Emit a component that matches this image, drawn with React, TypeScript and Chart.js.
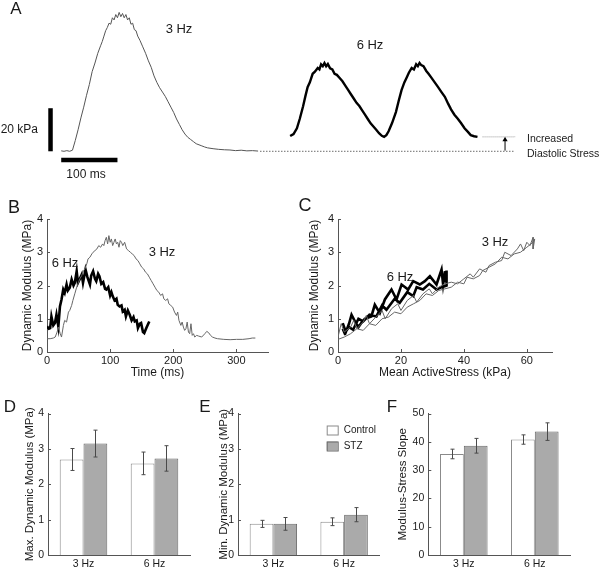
import React, { useEffect, useRef } from "react";
import { Chart, registerables } from "chart.js";
Chart.register(...registerables);

const FONT = '"Liberation Sans", Arial, Helvetica, sans-serif';
const AXIS = "#555555";
const TXT = "#1a1a1a";

type Pt = [number, number];

// ---------- Panel A: stress traces (time ms, stress kPa) ----------
const A_TRACE_3HZ: Pt[] = [
  [0, 0.2], [5, 0], [10, 0.3], [15, 0], [20, 0.5], [25, 5], [30, 10], [35, 15.5], [40, 20.5],
  [45, 26], [50, 31], [55, 37], [60, 41], [65, 45.5], [70, 49], [73, 51], [76, 53.5], [79, 56],
  [82, 57.5], [85, 59.5], [88, 59], [91, 62], [94, 61], [97, 63.5], [100, 62], [103, 64.5],
  [106, 62.5], [109, 64], [112, 62], [115, 63.5], [118, 61], [121, 62], [124, 59], [127, 59.5],
  [130, 56.5], [133, 56], [136, 53.5], [140, 51.5], [145, 48.5], [150, 45.5], [155, 42], [160, 39],
  [165, 35], [170, 32], [175, 29.5], [180, 27.5], [185, 25.5], [190, 23], [195, 20.5], [200, 18],
  [205, 15], [210, 12.5], [215, 10], [220, 8], [225, 6.5], [230, 5.5], [235, 4.5], [240, 3.5],
  [245, 3], [250, 2.5], [255, 2], [260, 1.6], [270, 1.2], [280, 0.9], [290, 0.7], [300, 0.6],
  [310, 0.3], [320, 0.5], [330, 0.2], [340, 0.3], [350, 0.1],
];
const A_TRACE_6HZ: Pt[] = [
  [407, 7.1], [413, 8], [419, 10.7], [424, 15], [430, 20.9], [434, 25.5], [438, 29.8], [442, 32],
  [447, 36], [451, 37], [456, 38.7], [459, 38], [462, 40.4], [465, 39.5], [468, 41], [471, 39.5],
  [474, 40.5], [478, 38.5], [482, 38], [486, 36], [490, 35.5], [495, 34], [500, 32.5], [505, 30.5],
  [510, 28.5], [515, 26.5], [520, 24.5], [525, 22.5], [530, 21], [535, 19], [540, 17], [545, 15],
  [550, 13], [555, 11.5], [560, 10], [565, 8.4], [570, 7.2], [574, 6.7], [578, 7.5], [582, 9.3],
  [588, 13], [595, 18.2], [600, 23.5], [605, 28.4], [610, 32], [614, 34.2], [618, 36.5], [623, 38.7],
  [627, 38], [631, 40.4], [634, 39.5], [637, 41], [640, 40], [644, 39.5], [649, 37.3], [653, 36],
  [658, 34.2], [664, 32], [670, 29.8], [676, 27.5], [682, 25.3], [688, 22], [693, 19.5], [699, 17],
  [705, 15.1], [711, 13], [717, 10.7], [723, 9], [728, 7.5], [734, 7], [740, 6.7],
];
const A_BASELINE: Pt[] = [[354, 0], [807, 0]];
const A_DIASTOLIC: Pt[] = [[749, 6.7], [807, 6.7]];
const A_ARROW: Pt[] = [[789, 0.3], [789, 5.4]];
const A_BAR_STRESS: Pt[] = [[-19, 0], [-19, 20]]; // 20 kPa scale bar
const A_BAR_TIME: Pt[] = [[0, -4], [100, -4]]; // 100 ms scale bar

// ---------- Panel B: dynamic modulus vs time (ms, MPa) ----------
const B_3HZ: Pt[] = [
  [0, 0.4], [5, 0.4], [10, 0.42], [13, 0.45], [16, 0.6], [18, 0.75], [21, 0.55], [23, 0.45],
  [26, 0.8], [28, 0.95], [31, 0.9], [34, 1.2], [36, 1.25], [39, 1.4], [41, 1.55], [44, 1.75],
  [47, 1.95], [50, 2.1], [52, 2.2], [55, 2.3], [58, 2.45], [60, 2.5], [63, 2.65], [65, 2.8],
  [68, 2.85], [71, 2.95], [73, 3.0], [76, 3.05], [79, 3.1], [82, 3.2], [85, 3.15], [88, 3.25],
  [90, 3.2], [92, 3.35], [94, 3.45], [96, 3.25], [98, 3.5], [100, 3.3], [102, 3.4], [104, 3.2],
  [106, 3.3], [108, 3.4], [110, 3.25], [112, 3.3], [114, 3.15], [116, 3.35], [118, 3.3], [120, 3.2],
  [123, 3.3], [126, 3.1], [129, 3.05], [132, 3.0], [135, 2.95], [138, 2.9], [141, 2.8], [144, 2.75],
  [147, 2.65], [150, 2.55], [153, 2.5], [156, 2.4], [159, 2.35], [162, 2.25], [165, 2.15], [168, 2.05],
  [171, 1.95], [174, 1.85], [177, 1.8], [180, 1.7], [183, 1.75], [185, 1.6], [188, 1.55], [191, 1.6],
  [193, 1.45], [196, 1.4], [199, 1.35], [202, 1.2], [205, 1.1], [207, 1.2], [209, 0.95], [212, 0.8],
  [214, 0.9], [216, 0.75], [218, 0.65], [220, 0.7], [222, 0.9], [224, 0.6], [226, 0.55], [228, 0.85],
  [230, 0.5], [232, 0.55], [234, 0.45], [237, 0.5], [240, 0.48], [245, 0.45], [250, 0.55], [253, 0.62],
  [256, 0.58], [259, 0.5], [262, 0.45], [266, 0.42], [270, 0.4], [280, 0.38], [290, 0.37], [300, 0.38],
  [310, 0.38], [320, 0.4], [325, 0.42], [330, 0.42],
];
const B_6HZ: Pt[] = [
  [0, 0.77], [3, 0.7], [5, 0.72], [7, 1.07], [10, 0.8], [12.6, 0.87], [15, 1.12], [18, 0.77],
  [20.5, 1.37], [23, 1.58], [25.7, 1.88], [28, 1.78], [31, 2.03], [33, 1.85], [36, 1.93], [39, 2.18],
  [42, 2.0], [44, 2.08], [47, 2.43], [49, 2.08], [52, 2.2], [55, 2.33], [57, 2.08], [61, 2.48],
  [64, 2.25], [68, 2.03], [70, 2.3], [73, 2.43], [76, 2.2], [78, 2.13], [81, 2.35], [83, 2.28],
  [86, 2.05], [89, 2.1], [92, 1.9], [94, 1.88], [97, 1.95], [100, 1.7], [102, 1.8], [104, 1.68],
  [107, 1.55], [110, 1.6], [112, 1.42], [115, 1.37], [118, 1.4], [120, 1.22], [123, 1.27], [125, 1.07],
  [128, 1.25], [131, 1.12], [134, 0.95], [137, 1.05], [139, 0.92], [142, 0.95], [144, 0.72], [147, 0.85],
  [149, 0.87], [152, 0.6], [154, 0.57], [158, 0.75], [162, 0.92],
];

// ---------- Panel C: dynamic modulus vs mean active stress (kPa, MPa) ----------
const C_3HZ: Pt[] = [
  [0, 0.45], [1, 0.85], [2, 0.6], [4, 0.75], [5, 0.95], [6, 0.7], [8, 0.9], [9, 1.1], [10, 0.85],
  [12, 1.05], [14, 1.25], [15, 1.0], [17, 1.3], [19, 1.45], [20, 1.25], [22, 1.55], [24, 1.7],
  [25, 1.5], [27, 1.75], [29, 1.9], [30, 1.75], [32, 1.95], [34, 2.05], [36, 2.1], [38, 2.05],
  [40, 2.2], [42, 2.35], [43, 2.25], [45, 2.5], [47, 2.4], [48, 2.6], [50, 2.7], [52, 2.75],
  [53, 3.0], [55, 2.9], [57, 3.1], [58, 3.25], [59, 3.05], [60, 3.3], [61, 3.2], [62, 3.45],
  [62, 3.1], [62.5, 3.4], [62, 3.3], [60, 3.15], [58, 3.0], [56, 2.95], [54, 2.8], [52, 2.85],
  [50, 2.65], [48, 2.55], [46, 2.45], [45, 2.3], [43, 2.2], [41, 2.25], [40, 2.05], [38, 2.1],
  [36, 1.95], [34, 1.9], [32, 1.85], [30, 1.7], [28, 1.75], [26, 1.55], [24, 1.45], [22, 1.35],
  [20, 1.15], [18, 1.2], [16, 1.05], [14, 1.0], [12, 0.8], [10, 0.85], [8, 0.65], [6, 0.7],
  [4, 0.55], [2, 0.45], [0, 0.38],
];
const C_6HZ: Pt[] = [
  [1.5, 0.87], [2.5, 0.6], [3.5, 0.85], [4.3, 1.12], [5.5, 0.9], [6.5, 0.75], [7.4, 0.87], [8.5, 1.0],
  [10.6, 1.07], [11.7, 1.42], [13.3, 1.17], [14.9, 1.58], [17, 1.88], [18.6, 1.58], [20.2, 2.03],
  [22.3, 1.88], [23.9, 2.13], [26, 2.03], [27.6, 2.13], [29.2, 2.28], [31.3, 2.03], [32.9, 2.48],
  [33.4, 2.03], [34, 2.43], [34.2, 2.1], [34.5, 2.45], [34.5, 2.0], [33, 1.95], [31.3, 1.88],
  [29, 2.05], [27, 1.88], [25, 1.95], [23.9, 1.68], [22, 1.8], [19.6, 1.48], [18, 1.6], [15.4, 1.27],
  [14, 1.4], [12.2, 1.07], [10, 1.12], [8, 0.92], [6.5, 1.0], [4.8, 0.67], [3.5, 0.75], [2.1, 0.57],
  [1.5, 0.7],
];

// ---------- Panels D, E, F: group means ----------
const GROUPS = ["3 Hz", "6 Hz"];
const MAX_CONTROL = [2.7, 2.59];
const MAX_CONTROL_ERR = [0.31, 0.32];
const MAX_STZ = [3.15, 2.73];
const MAX_STZ_ERR = [0.38, 0.36];
const MIN_CONTROL = [0.88, 0.94];
const MIN_CONTROL_ERR = [0.1, 0.11];
const MIN_STZ = [0.88, 1.14];
const MIN_STZ_ERR = [0.18, 0.2];
const SLOPE_CONTROL = [35.7, 40.8];
const SLOPE_CONTROL_ERR = [1.7, 1.65];
const SLOPE_STZ = [38.6, 43.6];
const SLOPE_STZ_ERR = [2.6, 3.1];

const toXY = (a: Pt[]) => a.map(([x, y]) => ({ x, y }));

type Label = { text: string; x: number; y: number; size: number; align?: CanvasTextAlign };
const labelsPlugin = (items: Label[]) => ({
  id: "labels",
  afterDraw(chart: any) {
    const ctx = chart.ctx;
    ctx.save();
    for (const it of items) {
      ctx.font = `${it.size}px ${FONT}`;
      ctx.fillStyle = TXT;
      ctx.textAlign = it.align ?? "center";
      ctx.textBaseline = "middle";
      ctx.fillText(it.text, it.x, it.y);
    }
    ctx.restore();
  },
});

const inwardTicks = {
  id: "inwardTicks",
  afterDraw(chart: any) {
    const { ctx, chartArea: a, scales } = chart;
    ctx.save();
    ctx.strokeStyle = AXIS;
    ctx.lineWidth = 1;
    ctx.beginPath();
    const xs = scales.x, ys = scales.y;
    if (xs && xs.type === "linear")
      for (const t of xs.ticks) {
        const p = Math.round(xs.getPixelForValue(t.value)) + 0.5;
        ctx.moveTo(p, a.bottom);
        ctx.lineTo(p, a.bottom - 3);
      }
    if (ys)
      for (const t of ys.ticks) {
        const p = Math.round(ys.getPixelForValue(t.value)) + 0.5;
        ctx.moveTo(a.left, p);
        ctx.lineTo(a.left + 3, p);
      }
    ctx.stroke();
    ctx.restore();
  },
};

const errorBars = {
  id: "errorBars",
  afterDatasetsDraw(chart: any) {
    const { ctx } = chart;
    const ys = chart.scales.y;
    ctx.save();
    ctx.strokeStyle = "#4a4a4a";
    ctx.lineWidth = 1;
    chart.data.datasets.forEach((ds: any, i: number) => {
      const meta = chart.getDatasetMeta(i);
      meta.data.forEach((el: any, j: number) => {
        const v = ds.data[j], e = ds.errors[j];
        const x = Math.round(el.x) + 0.5;
        const y1 = ys.getPixelForValue(v + e), y2 = ys.getPixelForValue(v - e);
        ctx.beginPath();
        ctx.moveTo(x, y1); ctx.lineTo(x, y2);
        ctx.moveTo(x - 2, y1); ctx.lineTo(x + 2, y1);
        ctx.moveTo(x - 2, y2); ctx.lineTo(x + 2, y2);
        ctx.stroke();
      });
    });
    ctx.restore();
  },
};

const legendBoxes = (x: number, y0: number, dy: number) => ({
  id: "legendBoxes",
  afterDraw(chart: any) {
    const { ctx } = chart;
    ctx.save();
    chart.data.datasets.forEach((ds: any, i: number) => {
      const y = y0 + i * dy;
      ctx.fillStyle = ds.backgroundColor;
      ctx.fillRect(x, y, 11, 9);
      ctx.strokeStyle = ds.borderColor;
      ctx.lineWidth = 1;
      ctx.strokeRect(x + 0.5, y + 0.5, 11, 9);
      ctx.fillStyle = TXT;
      ctx.font = `10px ${FONT}`;
      ctx.textAlign = "left";
      ctx.textBaseline = "middle";
      ctx.fillText(ds.label, x + 17, y + 5);
    });
    ctx.restore();
  },
});

const keepMultiples = (step: number) => (s: any) => {
  s.ticks = s.ticks.filter((t: any) => Math.abs(t.value / step - Math.round(t.value / step)) < 1e-6);
};

const base = {
  animation: false,
  responsive: false,
  devicePixelRatio: 1,
  events: [],
  plugins: { legend: { display: false }, tooltip: { enabled: false } },
};

function lineAxes(o: {
  xMax: number; xStep: number; xTitle: string; yTitle: string;
  yWidth: number; xHeight: number; yTitlePad: number; xTitlePad: number;
}) {
  return {
    x: {
      type: "linear", min: 0, max: o.xMax,
      grid: { display: false, drawTicks: false },
      border: { display: true, color: AXIS },
      ticks: { stepSize: o.xStep, padding: 2, color: TXT, font: { family: FONT, size: 11 }, maxRotation: 0, autoSkip: false },
      afterBuildTicks: keepMultiples(o.xStep),
      afterFit: (s: any) => { s.height = o.xHeight; },
      title: { display: true, text: o.xTitle, color: TXT, font: { family: FONT, size: 12 }, padding: { top: 0, bottom: o.xTitlePad } },
    },
    y: {
      type: "linear", min: 0, max: 4,
      grid: { display: false, drawTicks: false },
      border: { display: true, color: AXIS },
      ticks: { stepSize: 1, padding: 4, color: TXT, font: { family: FONT, size: 11 } },
      afterFit: (s: any) => { s.width = o.yWidth; },
      title: { display: true, text: o.yTitle, color: TXT, font: { family: FONT, size: 12 }, padding: { top: o.yTitlePad, bottom: 0 } },
    },
  };
}

const configA = () => ({
  type: "scatter",
  data: {
    datasets: [
      { data: toXY(A_TRACE_3HZ), showLine: true, borderColor: "#555", borderWidth: 1, pointRadius: 0 },
      { data: toXY(A_TRACE_6HZ), showLine: true, borderColor: "#000", borderWidth: 2.4, pointRadius: 0 },
      { data: toXY(A_BASELINE), showLine: true, borderColor: "#222", borderWidth: 1, borderDash: [1, 2], pointRadius: 0 },
      { data: toXY(A_DIASTOLIC), showLine: true, borderColor: "#999", borderWidth: 1, borderDash: [1, 1], pointRadius: 0 },
      {
        data: toXY(A_ARROW), showLine: true, borderColor: "#000", borderWidth: 1,
        pointRadius: [0, 3], pointStyle: "triangle", pointBackgroundColor: "#000", pointBorderColor: "#000", pointBorderWidth: 0,
      },
      { data: toXY(A_BAR_STRESS), showLine: true, borderColor: "#000", borderWidth: 4.5, borderCapStyle: "butt", pointRadius: 0 },
      { data: toXY(A_BAR_TIME), showLine: true, borderColor: "#000", borderWidth: 4.5, borderCapStyle: "butt", pointRadius: 0 },
    ],
  },
  options: {
    ...base,
    layout: { padding: 0 },
    scales: {
      x: { type: "linear", display: false, min: -101.7, max: 950.7 },
      y: { type: "linear", display: false, min: -13.8, max: 68.4 },
    },
  },
  plugins: [
    labelsPlugin([
      { text: "A", x: 16, y: 9, size: 17 },
      { text: "3 Hz", x: 179, y: 29, size: 13 },
      { text: "6 Hz", x: 370, y: 45, size: 13 },
      { text: "20 kPa", x: 38, y: 130, size: 12, align: "right" },
      { text: "100 ms", x: 86, y: 175, size: 12 },
      { text: "Increased", x: 527, y: 139, size: 10.5, align: "left" },
      { text: "Diastolic Stress", x: 527, y: 154, size: 10.5, align: "left" },
    ]),
  ],
});

const configB = () => ({
  type: "scatter",
  data: {
    datasets: [
      { label: "3 Hz", data: toXY(B_3HZ), showLine: true, borderColor: "#666", borderWidth: 1, pointRadius: 0 },
      { label: "6 Hz", data: toXY(B_6HZ), showLine: true, borderColor: "#000", borderWidth: 2.6, pointRadius: 0 },
    ],
  },
  options: {
    ...base,
    layout: { padding: { top: 24, right: 22, left: 0, bottom: 0 } },
    scales: lineAxes({ xMax: 350, xStep: 100, xTitle: "Time (ms)", yTitle: "Dynamic Modulus (MPa)", yWidth: 47, xHeight: 33, yTitlePad: 20.8, xTitlePad: 4.8 }),
  },
  plugins: [
    inwardTicks,
    labelsPlugin([
      { text: "B", x: 14, y: 13.5, size: 18 },
      { text: "6 Hz", x: 65, y: 68, size: 13 },
      { text: "3 Hz", x: 162, y: 57, size: 13 },
    ]),
  ],
});

const configC = () => ({
  type: "scatter",
  data: {
    datasets: [
      { label: "3 Hz", data: toXY(C_3HZ), showLine: true, borderColor: "#666", borderWidth: 1, pointRadius: 0 },
      { label: "6 Hz", data: toXY(C_6HZ), showLine: true, borderColor: "#000", borderWidth: 2.6, pointRadius: 0 },
    ],
  },
  options: {
    ...base,
    layout: { padding: { top: 24, right: 48, left: 0, bottom: 0 } },
    scales: lineAxes({ xMax: 68, xStep: 20, xTitle: "Mean ActiveStress (kPa)", yTitle: "Dynamic Modulus (MPa)", yWidth: 48, xHeight: 33, yTitlePad: 17.8, xTitlePad: 4.8 }),
  },
  plugins: [
    inwardTicks,
    labelsPlugin([
      { text: "C", x: 15, y: 11.5, size: 18 },
      { text: "6 Hz", x: 110, y: 82, size: 13 },
      { text: "3 Hz", x: 205, y: 47, size: 13 },
    ]),
  ],
});

function barConfig(o: {
  control: number[]; controlErr: number[]; stz: number[]; stzErr: number[];
  yMax: number; yStep: number; yTitle: string; yWidth: number; padRight: number; yTitlePad: number;
  letter: string; letterX: number; legend?: boolean;
}) {
  const plugins: any[] = [inwardTicks, errorBars, labelsPlugin([{ text: o.letter, x: o.letterX, y: 12, size: 17 }])];
  if (o.legend) plugins.push(legendBoxes(131.7, 30.5, 16));
  return {
    type: "bar",
    data: {
      labels: GROUPS,
      datasets: [
        { label: "Control", data: o.control, errors: o.controlErr, backgroundColor: "#ffffff", borderColor: "#8a8a8a", borderWidth: 1, barPercentage: 1, categoryPercentage: 0.67 },
        { label: "STZ", data: o.stz, errors: o.stzErr, backgroundColor: "#aaaaaa", borderColor: "#6a6a6a", borderWidth: 1, barPercentage: 1, categoryPercentage: 0.67 },
      ],
    },
    options: {
      ...base,
      layout: { padding: { top: 18.5, right: o.padRight, left: 0, bottom: 0 } },
      scales: {
        x: {
          type: "category", offset: true,
          grid: { display: false, drawTicks: false },
          border: { display: true, color: AXIS },
          ticks: { padding: 3, color: TXT, font: { family: FONT, size: 10.5 }, maxRotation: 0 },
          afterFit: (s: any) => { s.height = 15; },
        },
        y: {
          type: "linear", min: 0, max: o.yMax,
          grid: { display: false, drawTicks: false },
          border: { display: true, color: AXIS },
          ticks: { stepSize: o.yStep, padding: 4, color: TXT, font: { family: FONT, size: 10.5 } },
          afterFit: (s: any) => { s.width = o.yWidth; },
          title: { display: true, text: o.yTitle, color: TXT, font: { family: FONT, size: 11.5 }, padding: { top: o.yTitlePad, bottom: 0 } },
        },
      },
    },
    plugins,
  };
}

const configD = () => barConfig({
  control: MAX_CONTROL, controlErr: MAX_CONTROL_ERR, stz: MAX_STZ, stzErr: MAX_STZ_ERR,
  yMax: 4, yStep: 1, yTitle: "Max. Dynamic Modulus (MPa)", yWidth: 48, padRight: 5, yTitlePad: 23.1,
  letter: "D", letterX: 10,
});
const configE = () => barConfig({
  control: MIN_CONTROL, controlErr: MIN_CONTROL_ERR, stz: MIN_STZ, stzErr: MIN_STZ_ERR,
  yMax: 4, yStep: 1, yTitle: "Min. Dynamic Modulus (MPa)", yWidth: 43, padRight: 15.5, yTitlePad: 22.1,
  letter: "E", letterX: 10, legend: true,
});
const configF = () => barConfig({
  control: SLOPE_CONTROL, controlErr: SLOPE_CONTROL_ERR, stz: SLOPE_STZ, stzErr: SLOPE_STZ_ERR,
  yMax: 50, yStep: 10, yTitle: "Modulus-Stress Slope", yWidth: 43.3, padRight: 29.7, yTitlePad: 10.6,
  letter: "F", letterX: 7,
});

function ChartPanel(props: { left: number; top: number; width: number; height: number; config: () => any }) {
  const ref = useRef<HTMLCanvasElement>(null);
  useEffect(() => {
    const chart = new Chart(ref.current as HTMLCanvasElement, props.config());
    return () => chart.destroy();
  }, []);
  const { left, top, width, height } = props;
  return (
    <canvas
      ref={ref}
      width={width}
      height={height}
      style={{ position: "absolute", left, top, width, height, display: "block" }}
    />
  );
}

export default function App() {
  return (
    <div style={{ position: "fixed", left: 0, top: 0, width: 600, height: 570, background: "#ffffff", overflow: "hidden" }}>
      <ChartPanel left={0} top={0} width={600} height={185} config={configA} />
      <ChartPanel left={0} top={195} width={290} height={190} config={configB} />
      <ChartPanel left={290} top={195} width={310} height={190} config={configC} />
      <ChartPanel left={0} top={395} width={195} height={175} config={configD} />
      <ChartPanel left={195} top={395} width={200} height={175} config={configE} />
      <ChartPanel left={385} top={395} width={215} height={175} config={configF} />
    </div>
  );
}
